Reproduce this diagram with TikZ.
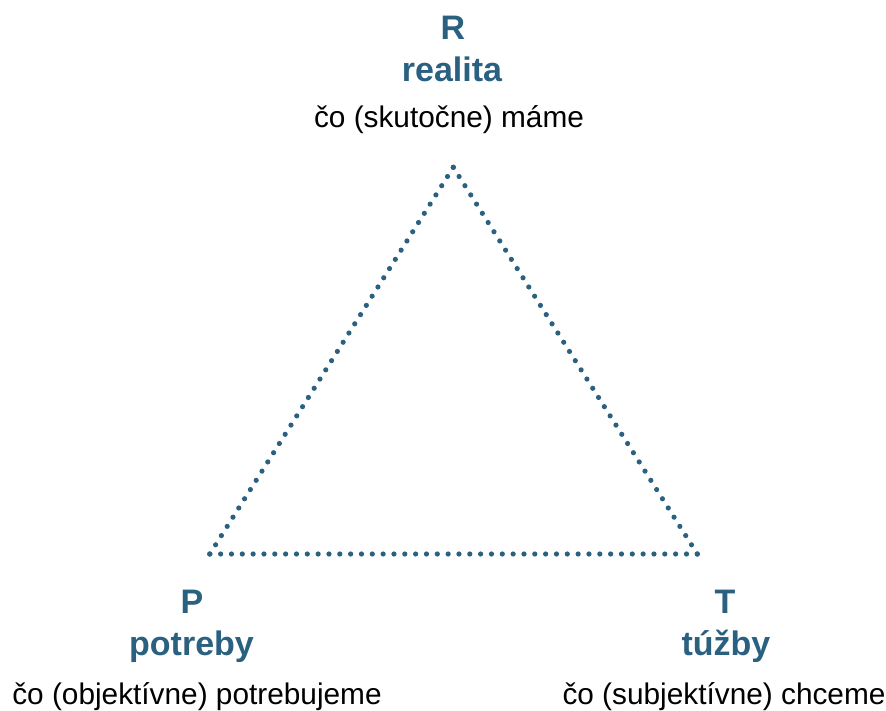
\documentclass[tikz,border=0pt]{standalone}
\usepackage{fontspec}
\setmainfont{Liberation Sans}
\usetikzlibrary{calc}
\definecolor{teal1}{RGB}{42,96,128}
\tikzset{
  title/.style={anchor=base, inner sep=0pt, text=teal1, font=\bfseries\fontsize{34}{40}\selectfont},
  desc/.style={anchor=base, inner sep=0pt, text=black, font=\fontsize{29.8}{36}\selectfont},
  dotfill/.style={fill=teal1}
}
\begin{document}
\begin{tikzpicture}[x=1pt,y=-1pt]
\useasboundingbox (0,0) rectangle (886,711);
\coordinate (vt) at (453.3,167.3);
\coordinate (vl) at (209.8,554);
\coordinate (vr) at (697.3,554);
% dotted edges
\foreach \i in {0,...,42} {\fill[dotfill] ($(vt)!\i/42!(vl)$) circle (2.6);}
\foreach \i in {0,...,42} {\fill[dotfill] ($(vt)!\i/42!(vr)$) circle (2.6);}
\foreach \i in {0,...,45} {\fill[dotfill] ($(vl)!\i/45!(vr)$) circle (2.6);}
% top labels
\node[title] (rl) at (453,39.5) {R};
\node[title] (rw) at (452,82) {realita};
\node[desc] (rd) at (449,128) {čo (skutočne) máme};
% bottom left
\node[title] (pl) at (192,613) {P};
\node[title] (pw) at (191.5,655) {potreby};
\node[desc] (pd) at (197,704) {čo (objektívne) potrebujeme};
% bottom right
\node[title] (tl) at (725,613) {T};
\node[title] (tw) at (726,655) {túžby};
\node[desc] (td) at (724,704) {čo (subjektívne) chceme};
\end{tikzpicture}
\end{document}
